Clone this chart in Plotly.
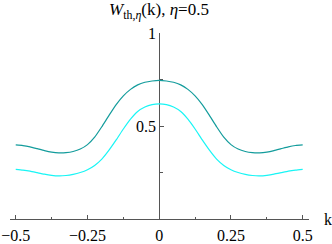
import plotly.graph_objects as go

# data (symmetric in k)
k_half = [0.0, 0.025, 0.05, 0.075, 0.10, 0.125, 0.15, 0.175, 0.20, 0.225, 0.25,
          0.275, 0.30, 0.325, 0.35, 0.375, 0.40, 0.425, 0.45, 0.475, 0.50]
teal_half = [0.745, 0.742, 0.735, 0.721, 0.697, 0.662, 0.615, 0.557, 0.496, 0.440, 0.400,
             0.376, 0.363, 0.357, 0.356, 0.360, 0.368, 0.378, 0.388, 0.395, 0.398]
cyan_half = [0.619, 0.615, 0.602, 0.578, 0.537, 0.484, 0.425, 0.370, 0.322, 0.288, 0.265,
             0.250, 0.240, 0.234, 0.232, 0.235, 0.241, 0.249, 0.257, 0.263, 0.267]

k_vals = [-v for v in k_half[:0:-1]] + k_half
teal_vals = teal_half[:0:-1] + teal_half
cyan_vals = cyan_half[:0:-1] + cyan_half

x_ticks = [-0.5, -0.25, 0, 0.25, 0.5]
x_ticktext = ["\u22120.5", "\u22120.25", "0", "0.25", "0.5"]
x_minor = [-0.375, -0.125, 0.125, 0.375]
y_ticks = [0.5, 1]
y_ticktext = ["0.5", "1"]
y_minor = [0.25, 0.75]

W, H = 332, 244
L, R, T, B = 10, 22.7, 33.3, 25
xr = [-0.52, 0.522]

fig = go.Figure()
fig.add_trace(go.Scatter(x=k_vals, y=teal_vals, mode="lines", hoverinfo="skip",
                         line=dict(color="#139c9c", width=1.2, shape="spline", smoothing=0.5)))
fig.add_trace(go.Scatter(x=k_vals, y=cyan_vals, mode="lines", hoverinfo="skip",
                         line=dict(color="#19f5f5", width=1.2, shape="spline", smoothing=0.5)))

axis_color = "#555555"
font = dict(family="Liberation Serif", size=16, color="black")
title_font = dict(family="Liberation Serif", size=17, color="black")
ypos = (0 - xr[0]) / (xr[1] - xr[0])

fig.update_layout(
    width=W, height=H, margin=dict(l=L, r=R, t=T, b=B, autoexpand=False),
    paper_bgcolor="white", plot_bgcolor="white", showlegend=False,
    font=font,
    xaxis=dict(range=xr, showgrid=False, zeroline=False, showline=True,
               automargin=False, layer="below traces",
               linecolor=axis_color, linewidth=1, ticks="inside", ticklen=4,
               tickcolor=axis_color, tickmode="array", tickvals=x_ticks,
               ticktext=x_ticktext, tickfont=font, ticklabelstandoff=2,
               minor=dict(tickmode="array", tickvals=x_minor, ticks="inside",
                          ticklen=2.5, tickcolor=axis_color)),
    yaxis=dict(range=[0, 1], showgrid=False, zeroline=False, showline=True,
               automargin=False, layer="below traces",
               linecolor=axis_color, linewidth=1, ticks="inside", ticklen=4,
               tickcolor=axis_color, tickmode="array", tickvals=y_ticks,
               ticktext=y_ticktext, tickfont=font, anchor="free", position=ypos,
               minor=dict(tickmode="array", tickvals=y_minor, ticks="inside",
                          ticklen=2.5, tickcolor=axis_color)),
)

fig.add_annotation(text="<i>W</i><sub>th,<i>\u03b7</i></sub>(k), <i>\u03b7</i>=0.5",
                   xref="paper", yref="paper", x=ypos, y=1, yshift=22,
                   showarrow=False, font=title_font, xanchor="center", yanchor="middle")
fig.add_annotation(text="k", xref="paper", yref="paper", x=1, y=0, xshift=13,
                   showarrow=False, font=font, xanchor="left", yanchor="middle")

fig.write_html("out.html", config={"displayModeBar": False, "staticPlot": True},
               post_script="document.body.style.margin='0';document.body.style.overflow='hidden';")
